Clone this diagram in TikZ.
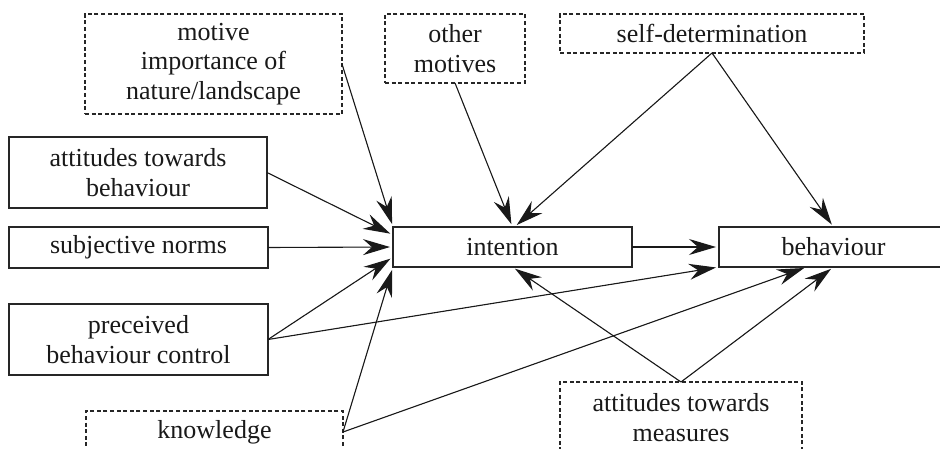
\documentclass[tikz,border=0pt]{standalone}
\usepackage{fontspec}
\setmainfont{Liberation Serif}
\usetikzlibrary{arrows.meta}
\begin{document}
\begin{tikzpicture}[x=1pt,y=1pt,
  box/.style={draw=black!85, line width=1.1pt, rectangle, inner sep=0pt, outer sep=0pt,
    align=center, font=\fontsize{26}{29.5}\selectfont, text=black!90},
  dbox/.style={box, dash pattern=on 4pt off 2.6pt},
  arr/.style={draw=black!90, fill=black!90, line width=1.1pt, shorten >=3pt, arrows={-Stealth[length=27pt,width=16pt,inset=9pt]}}]
\useasboundingbox (0,0) rectangle (940,-449);
\clip (0,0) rectangle (940,-449);
% top dashed boxes
\node[dbox, minimum width=257pt, minimum height=100pt] (motive) at (213.5,-64) {motive\\importance of\\nature/landscape};
\node[dbox, minimum width=140pt, minimum height=69pt] (other) at (455,-48.5) {other\\motives};
\node[dbox, minimum width=304pt, minimum height=39pt] (selfdet) at (712,-33.5) {self-determination};
% left solid boxes
\node[box, minimum width=258pt, minimum height=71pt] (attb) at (138,-172.5) {attitudes towards\\behaviour};
\node[box, minimum width=259pt, minimum height=41pt] (subj) at (138.5,-247.5) {subjective norms};
\node[box, minimum width=259pt, minimum height=71pt] (pbc) at (138.5,-339.5) {preceived\\behaviour control};
% central boxes
\node[box, minimum width=239pt, minimum height=40pt] (intent) at (512.5,-247) {intention};
\node[box, minimum width=229pt, minimum height=40pt] (behav) at (833.5,-247) {behaviour};
% bottom dashed boxes
\node[dbox, minimum width=257pt, minimum height=42pt] (know) at (214.5,-432) {knowledge};
\node[dbox, minimum width=242pt, minimum height=71pt] (meas) at (681,-417.5) {attitudes towards\\measures};
% connectors
\draw[arr] (motive.east) -- (intent.north west);
\draw[arr] (attb.east) -- ([yshift=-8pt]intent.north west);
\draw[arr] (subj.east) -- (intent.west);
\draw[arr] (pbc.east) -- ([yshift=-10pt]intent.west);
\draw[arr] (know.east) -- (intent.south west);
\draw[arr] (other.south) -- (intent.north);
\draw[arr] (selfdet.south) -- ([xshift=2pt]intent.north);
\draw[arr] (selfdet.south) -- (behav.north);
\draw[arr] (intent.east) -- (behav.west);
\draw[arr] (pbc.east) -- (behav.south west);
\draw[arr] (know.east) -- ([xshift=-26.5pt]behav.south);
\draw[arr] (meas.north) -- (intent.south);
\draw[arr] (meas.north) -- (behav.south);
\end{tikzpicture}
\end{document}
